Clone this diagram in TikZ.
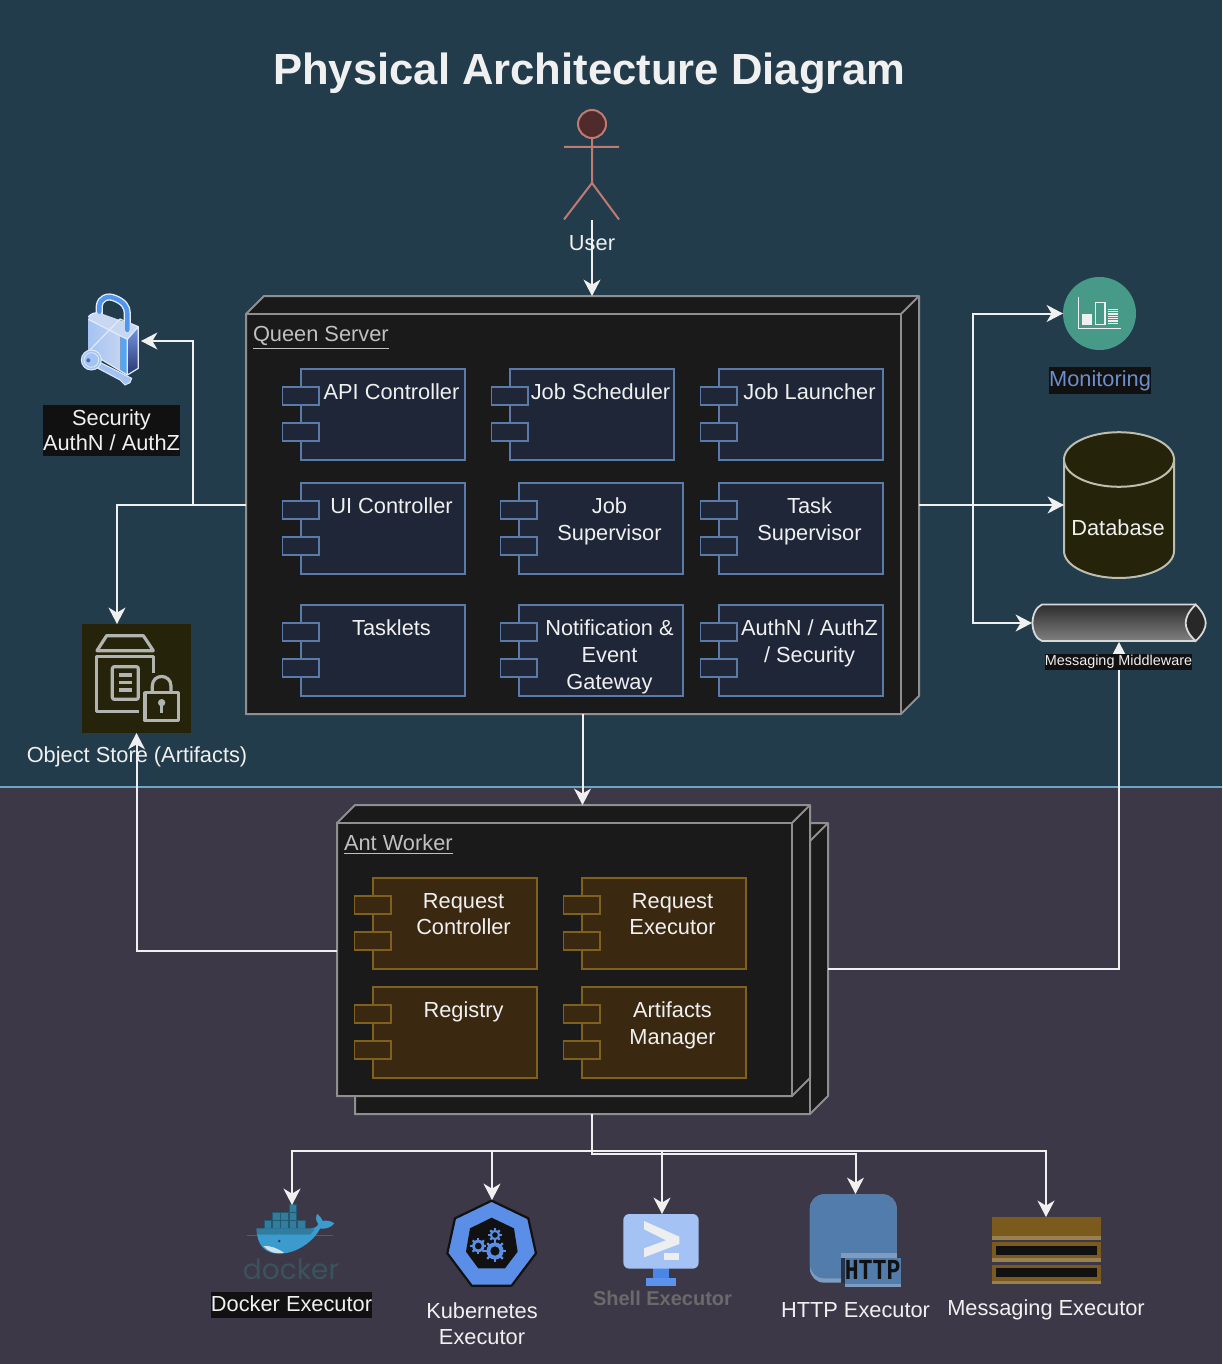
\documentclass[tikz,border=0pt]{standalone}
\usepackage{fontspec}
\setmainfont{Liberation Sans}
\newfontfamily\httpfont{Liberation Mono}
\newfontfamily\dockerfont{Poppins}
\usetikzlibrary{arrows.meta,fit,calc}
\definecolor{bgtop}{HTML}{223C4B}
\definecolor{bgbot}{HTML}{3C3848}
\definecolor{sep}{HTML}{6BA6C4}
\definecolor{cubefill}{HTML}{1A1A1A}
\definecolor{cubeline}{HTML}{8F8F8F}
\definecolor{qfill}{HTML}{1E2638}
\definecolor{qline}{HTML}{5A7AA8}
\definecolor{afill}{HTML}{3A2810}
\definecolor{aline}{HTML}{80601F}
\definecolor{txtc}{HTML}{F0F0F0}
\definecolor{conn}{HTML}{F0F0F0}
\definecolor{olive}{HTML}{25230A}
\definecolor{labbg}{HTML}{111111}
\definecolor{iconblue}{HTML}{5B8EE6}
\definecolor{lockline}{HTML}{E1EBFA}
\definecolor{lockfill}{HTML}{A5C3F2}
\tikzset{
  x=0.5pt,y=-0.5pt,
  wire/.style={draw=conn,line width=1pt,-{Stealth[length=8.2pt,width=8.5pt,inset=2.5pt]},rounded corners=0pt},
  area/.style={inner sep=0pt,outer sep=0pt},
  qbox/.style={area,draw=qline,fill=qfill,line width=0.9pt},
  abox/.style={area,draw=aline,fill=afill,line width=0.9pt},
  txt/.style={inner sep=0pt,outer sep=0pt,text=txtc,align=center,font=\fontsize{10.9}{13.3}\selectfont},
  lab/.style={txt,fill=labbg,inner xsep=0pt,inner ysep=1pt},
}
\newcommand{\compbox}[5]{%
  \node[#5,fit={(#2,#3)(#2+164,#3+91)}] (#1) {};
  \node[#5,fit={(#2-18.5,#3+18)(#2+18,#3+36)}] (#1-a) {};
  \node[#5,fit={(#2-18.5,#3+54)(#2+18,#3+72)}] (#1-b) {};
  \node[txt,anchor=north] (#1-t) at (#2+90.5,#3+15) {#4};
}
\newcommand{\cubebox}[5]{%
  \draw[draw=cubeline,fill=cubefill,line width=1pt,line join=round]
    (#1,#2) -- (#1+#5,#2-#5) -- (#3+#5,#2-#5) -- (#3+#5,#4-#5) -- (#3,#4) -- (#1,#4) -- cycle;
  \draw[draw=cubeline,line width=1pt] (#1,#2) rectangle (#3,#4);
  \draw[draw=cubeline,line width=1pt] (#3,#2) -- (#3+#5,#2-#5);
}
\newcommand{\gearicon}[3]{%
  \foreach \a in {0,45,...,315}{\draw[iconblue,line width=1.1pt] (#1,#2) ++(\a:0.5*#3) -- ++(\a:0.5*#3);}
  \fill[iconblue] (#1,#2) circle[radius=0.78*#3];
  \fill[labbg] (#1,#2) circle[radius=0.42*#3];
}
\begin{document}
\begin{tikzpicture}
\useasboundingbox (0,0) rectangle (1222,1364);
\fill[bgtop] (0,0) rectangle (1222,787);
\fill[bgbot] (0,787) rectangle (1222,1364);
\draw[sep,line width=1pt] (0,787) -- (1222,787);

\node[inner sep=0pt,text=txtc,font=\bfseries\fontsize{21.8}{26}\selectfont] (title) at (589.5,73) {Physical Architecture Diagram};

% Actor
\node[area,fit={(564,110)(619,220)}] (actor) {};
\draw[draw={rgb,255:red,192;green,122;blue,114},line width=1pt]
  (592,138) -- (592,183) (564,147) -- (619,147) (564,219.5) -- (592,183) -- (619,219.5);
\draw[draw={rgb,255:red,192;green,122;blue,114},fill={rgb,255:red,79;green,43;blue,43},line width=1pt] (592,124) circle[radius=14];
\node[txt] (userlab) at (592,243) {User};

% Cubes
\node[area,fit={(246,296)(919,714)}] (queen) {};
\cubebox{246}{314}{901}{714}{18}
\node[area,fit={(355,823)(828,1114)}] (antback) {};
\cubebox{355}{841}{810}{1114}{18}
\node[area,fit={(337,805)(810,1096)}] (antfront) {};
\cubebox{337}{823}{792}{1096}{18}
\node[txt,anchor=base west,text=txtc!80!black] (queenlab) at (253,341) {\underline{Queen Server}};
\node[txt,anchor=base west,text=txtc!80!black] (antlab) at (344,850) {\underline{Ant Worker}};

% Queen components
\compbox{apic}{301}{369}{API Controller}{qbox}
\compbox{jsch}{510}{369}{Job Scheduler}{qbox}
\compbox{jlau}{719}{369}{Job Launcher}{qbox}
\compbox{uic}{301}{483}{UI Controller}{qbox}
\compbox{jsup}{519}{483}{Job\\Supervisor}{qbox}
\compbox{tsup}{719}{483}{Task\\Supervisor}{qbox}
\compbox{tasklets}{301}{605}{Tasklets}{qbox}
\compbox{notif}{519}{605}{Notification \&\\Event\\Gateway}{qbox}
\compbox{authn}{719}{605}{AuthN / AuthZ\\/ Security}{qbox}

% Ant components
\compbox{reqc}{373}{878}{Request\\Controller}{abox}
\compbox{reqe}{582}{878}{Request\\Executor}{abox}
\compbox{reg}{373}{987}{Registry}{abox}
\compbox{artm}{582}{987}{Artifacts\\Manager}{abox}

% Security padlock
\node[area,fit={(80,296)(141,386)}] (security) {};
\begin{scope}[shift={(20,280)},scale=0.3333]
  \draw[draw=lockline,line width=3.6pt,line cap=round]
    (238,110) -- (238,78) .. controls (240,55) and (262,45) .. (285,55) .. controls (310,65) and (322,80) .. (322,100) -- (322,150);
  \fill[fill={rgb,255:red,200;green,216;blue,243}] (205,110) .. controls (215,100) and (225,98) .. (235,97) -- (355,140) -- (322,178) -- (205,118) -- cycle;
  \shade[left color=lockfill,right color={rgb,255:red,196;green,212;blue,240}]
    (205,118) -- (302,168) -- (302,272) -- (205,215) -- cycle;
  \fill[fill={rgb,255:red,85;green,165;blue,245}] (302,168) -- (322,178) -- (322,285) -- (302,272) -- cycle;
  \shade[top color={rgb,255:red,120;green,150;blue,230},bottom color={rgb,255:red,40;green,55;blue,110}]
    (322,178) -- (355,140) -- (355,265) -- (322,285) -- cycle;
  \draw[draw=lockline,line width=0.6pt,line join=round]
    (205,110) .. controls (215,100) and (225,98) .. (235,97) (300,117) -- (355,140) -- (355,265) -- (322,285) -- (205,215) -- cycle
    (205,118) -- (322,178) -- (355,140) (322,178) -- (322,285);
  \draw[draw=lockline,line width=2.6pt,line cap=round] (322,105) -- (322,150);
  \draw[draw={rgb,255:red,80;green,150;blue,240},line width=2.2pt,line cap=round]
    (238,95) -- (238,78) .. controls (240,55) and (262,45) .. (285,55) .. controls (310,65) and (322,80) .. (322,100) -- (322,150);
  \draw[draw=lockline,fill=lockfill,line width=0.5pt]
    (236,245) -- (335,295) -- (330,308) -- (315,315) -- (300,300) -- (285,292) -- (232,264) -- cycle;
  \draw[draw=lockline,fill=lockfill,line width=0.5pt] (214,240) circle[radius=30];
  \draw[draw=lockline,line width=0.4pt] (214,240) circle[radius=22];
  \fill[fill={rgb,255:red,60;green,110;blue,190}] (205,241) circle[radius=6];
\end{scope}
\node[lab,font=\fontsize{10.9}{12.6}\selectfont,inner ysep=2.2pt] (seclab) at (111.5,430.5) {Security\\AuthN / AuthZ};

% Object store
\node[area,fill=olive,fit={(82,624)(191,733)}] (objstore) {};
\begin{scope}[shift={(20,610)},scale=0.3333,draw={rgb,255:red,178;green,180;blue,178},line width=1.6pt,line join=round]
  \draw (231,122) -- (260,77) -- (370,77) -- (400,122) -- cycle;
  \draw (400,190) -- (400,140) -- (230,140) -- (230,305) -- (357,305);
  \draw[rounded corners=1pt] (277,170) rectangle (355,268);
  \draw (297,195) -- (335,195) (297,218) -- (335,218) (297,240) -- (335,240);
  \draw (375,248) rectangle (475,332);
  \draw (397,248) -- (397,228) .. controls (397,190) and (453,190) .. (453,228) -- (453,248);
  \fill[fill={rgb,255:red,178;green,180;blue,178}] (425,278) circle[radius=11];
  \draw (425,278) -- (425,310);
\end{scope}
\node[txt] (objlab) at (137,757) {Object Store (Artifacts)};

% Monitoring
\node[area,circle,fill={rgb,255:red,71;green,154;blue,135},minimum size=36.5pt] (monitor) at (1099.5,313.5) {};
\begin{scope}[shift={(1010,270)},scale=0.3333,draw=txtc,line width=0.6pt]
  \draw (205,82) -- (205,176) -- (332,176);
  \fill[txtc] (217,131) rectangle (246,164);
  \draw (256,97) rectangle (285,163);
  \foreach \s in {118,125,...,163}{\draw[line width=0.55pt] (295,\s) -- (325,\s);}
\end{scope}
\node[lab,text={rgb,255:red,108;green,142;blue,205},minimum height=13.5pt] (monlab) at (1100,380.5) {Monitoring};

% Database
\node[area,fit={(1064,432)(1174,578)}] (db) {};
\draw[draw={rgb,255:red,190;green,190;blue,175},fill=olive,line width=1pt]
  (1064,459) -- (1064,551) .. controls (1064,566) and (1089,578) .. (1119,578) .. controls (1149,578) and (1174,566) .. (1174,551) -- (1174,459) -- cycle;
\draw[draw={rgb,255:red,190;green,190;blue,175},fill=olive,line width=1pt] (1119,459.5) ellipse[x radius=55,y radius=27.3];
\node[txt] (dblab) at (1118,528) {Database};

% Messaging middleware pipe
\node[area,fit={(1032,604)(1206,642)}] (pipe) {};
\shade[top color={rgb,255:red,45;green,45;blue,45},bottom color={rgb,255:red,128;green,128;blue,128}]
  (1042,604.5) .. controls (1036,607) and (1032.5,615) .. (1032.5,623) .. controls (1032.5,631) and (1036,639) .. (1042,641) -- (1195.7,641) -- (1195.7,604.5) -- cycle;
\draw[draw=txtc!90!black,line width=0.9pt]
  (1195.7,604.5) -- (1042,604.5) .. controls (1036,607) and (1032.5,615) .. (1032.5,623) .. controls (1032.5,631) and (1036,639) .. (1042,641) -- (1195.7,641);
\draw[draw=txtc!90!black,fill={rgb,255:red,40;green,40;blue,40},line width=0.9pt]
  (1195.7,604.5) .. controls (1188,612) and (1185.7,618) .. (1185.7,623) .. controls (1185.7,628) and (1188,634) .. (1195.7,641)
  .. controls (1203,634) and (1205.7,628) .. (1205.7,623) .. controls (1205.7,618) and (1203,612) .. (1195.7,604.5) -- cycle;

% Docker icon
\node[area,fit={(246,1205)(338,1282)}] (docker) {};
\begin{scope}[shift={(200,1140)},scale=0.3333]
  \foreach \cx/\cy in {192/242,217/242,242/242,267/242,292/242,217/218,242/218,267/218,267/194}{
    \draw[fill={rgb,255:red,50;green,125;blue,155},draw={rgb,255:red,34;green,90;blue,115},line width=0.3pt] (\cx,\cy) rectangle (\cx+23,\cy+23);}
  \draw[draw={rgb,255:red,60;green,100;blue,115},line width=0.4pt] (140,285) -- (175,285) (315,285) -- (400,285);
  \fill[fill={rgb,255:red,60;green,155;blue,205}]
    (170,266) -- (325,266) .. controls (340,266) and (352,262) .. (355,252)
    .. controls (345,240) and (348,228) .. (352,222) .. controls (360,228) and (366,235) .. (368,243)
    .. controls (380,240) and (393,243) .. (403,250) .. controls (395,262) and (375,268) .. (360,266)
    .. controls (340,305) and (290,340) .. (240,341) .. controls (195,342) and (170,315) .. (170,266) -- cycle;
  \fill[fill={rgb,255:red,48;green,125;blue,160}] (170,266) -- (325,266) -- (345,266) .. controls (340,272) and (336,278) .. (331,284) -- (172,284) -- cycle;
  \fill[fill={rgb,255:red,205;green,225;blue,232}] (190,318) .. controls (210,316) and (232,325) .. (252,338) .. controls (225,343) and (205,335) .. (190,318) -- cycle;
  \fill[fill={rgb,255:red,30;green,50;blue,60}] (238,303) circle[radius=4];
\end{scope}
\node[inner sep=0pt,text={rgb,255:red,58;green,84;blue,92},font=\dockerfont\fontsize{14}{16}\selectfont] (dockertxt) at (291,1269) {docker};
\node[lab,minimum height=13pt] (dockerlab) at (291.5,1305) {\raisebox{1pt}{Docker Executor}};

% Kubernetes icon
\node[area,fit={(447,1200)(537,1287)}] (k8s) {};
\begin{scope}[shift={(200,1140)},scale=0.3333]
  \draw[fill=iconblue,draw=labbg,line width=1.1pt,line join=round]
    (875,182) -- (985,235) -- (1008,340) -- (935,437) -- (815,437) -- (742,340) -- (765,235) -- cycle;
  \fill[labbg] (875,233) -- (942,265) -- (953,335) -- (915,385) -- (835,385) -- (798,335) -- (810,265) -- cycle;
  \gearicon{835}{318}{24}
  \gearicon{885}{285}{20}
  \gearicon{885}{333}{33}
\end{scope}
\node[txt] (k8slab) at (482,1323.5) {Kubernetes\\Executor};

% Shell icon
\node[area,fit={(623,1214)(701,1287)}] (shell) {};
\begin{scope}[shift={(570,1140)},scale=0.3333]
  \fill[fill={rgb,255:red,74;green,134;blue,232}] (250,385) rectangle (296,413);
  \fill[fill={rgb,255:red,91;green,146;blue,238}] (228,413) rectangle (318,437);
  \fill[fill={rgb,255:red,164;green,194;blue,244},rounded corners=3pt] (160,222) rectangle (386,386);
  \fill[fill={rgb,255:red,236;green,238;blue,240}] (222,243) -- (328,290) -- (328,312) -- (222,352) -- (222,325) -- (288,301) -- (222,268) -- cycle;
  \fill[fill={rgb,255:red,236;green,238;blue,240}] (282,338) rectangle (327,360);
\end{scope}
\node[inner sep=0pt,text={rgb,255:red,106;green,106;blue,106},font=\bfseries\fontsize{10}{12}\selectfont] (shelllab) at (662.5,1298) {Shell Executor};

% HTTP icon
\node[area,fit={(810,1194)(901,1287)}] (http) {};
\begin{scope}[shift={(570,1140)},scale=0.3333]
  \fill[fill={rgb,255:red,125;green,156;blue,192},rounded corners=7pt] (720,163) rectangle (980,428);
  \fill[fill={rgb,255:red,81;green,124;blue,171},rounded corners=7pt] (720,163) rectangle (980,415);
  \fill[bgbot] (813,340) rectangle (1000,445);
  \fill[fill={rgb,255:red,125;green,156;blue,192}] (813,340) rectangle (980,353);
  \fill[fill={rgb,255:red,40;green,50;blue,70}] (813,353) rectangle (825,428);
  \fill[fill={rgb,255:red,81;green,124;blue,171}] (825,353) rectangle (993,432);
  \fill[fill={rgb,255:red,125;green,156;blue,192}] (825,432) rectangle (993,440);
  \node[inner sep=0pt,text=labbg,font=\httpfont\bfseries\fontsize{14.5}{16}\selectfont,xscale=0.8] (httptxt) at (908,390) {HTTP};
\end{scope}
\node[txt] (httplab) at (855.5,1310) {HTTP Executor};

% Messaging executor icon
\node[area,fit={(991.5,1217)(1100.5,1285)}] (msg) {};
\begin{scope}[shift={(930,1180)},scale=0.3333]
  \fill[fill={rgb,255:red,123;green,90;blue,30}] (185,111) rectangle (513,180);
  \fill[fill={rgb,255:red,152;green,128;blue,80}] (185,168) rectangle (513,180);
  \fill[fill={rgb,255:red,123;green,90;blue,30}] (185,186) rectangle (513,245);
  \fill[fill={rgb,255:red,152;green,128;blue,80}] (185,235) rectangle (513,245);
  \fill[labbg] (197,197) rectangle (501,226);
  \fill[fill={rgb,255:red,123;green,90;blue,30}] (185,254) rectangle (513,313);
  \fill[fill={rgb,255:red,152;green,128;blue,80}] (185,303) rectangle (513,313);
  \fill[labbg] (197,264) rectangle (501,292);
\end{scope}
\node[txt] (msglab) at (1046,1310) {Messaging Executor};

% Connectors
\coordinate (usr) at (592,220);
\coordinate (secbus) at (193,505);
\coordinate (objin) at (117,624);
\coordinate (monbus) at (973,505);
\draw[wire] (usr) -- (usr |- queen.north);
\draw[wire] (queen.west) -- (secbus) |- (security.east);
\draw[wire] (queen.west) -| (objin);
\draw[wire] (queen.east) -- (monbus) |- (monitor.west);
\draw[wire] (queen.east) -- (db.west);
\draw[wire] (monbus) |- (pipe.west);
\draw[wire] (queen.south) -- (queen.south |- antfront.north);
\draw[wire] (antfront.west) -| (objstore.south);
\draw[wire] (antback.east) -| (pipe.south);
\draw[wire] (antback.south) -- ++(0,37) -| (docker.north);
\draw[wire] (antback.south) -- ++(0,37) -| (k8s.north);
\draw[wire] (antback.south) -- ++(0,37) -| (shell.north);
\draw[wire] (antback.south) -- ++(0,40) -| (http.north);
\draw[wire] (antback.south) -- ++(0,37) -| (msg.north);

\node[lab,font=\fontsize{7.2}{9}\selectfont,inner ysep=0.5pt] (pipelab) at (1118.5,662) {Messaging Middleware};
\end{tikzpicture}
\end{document}
